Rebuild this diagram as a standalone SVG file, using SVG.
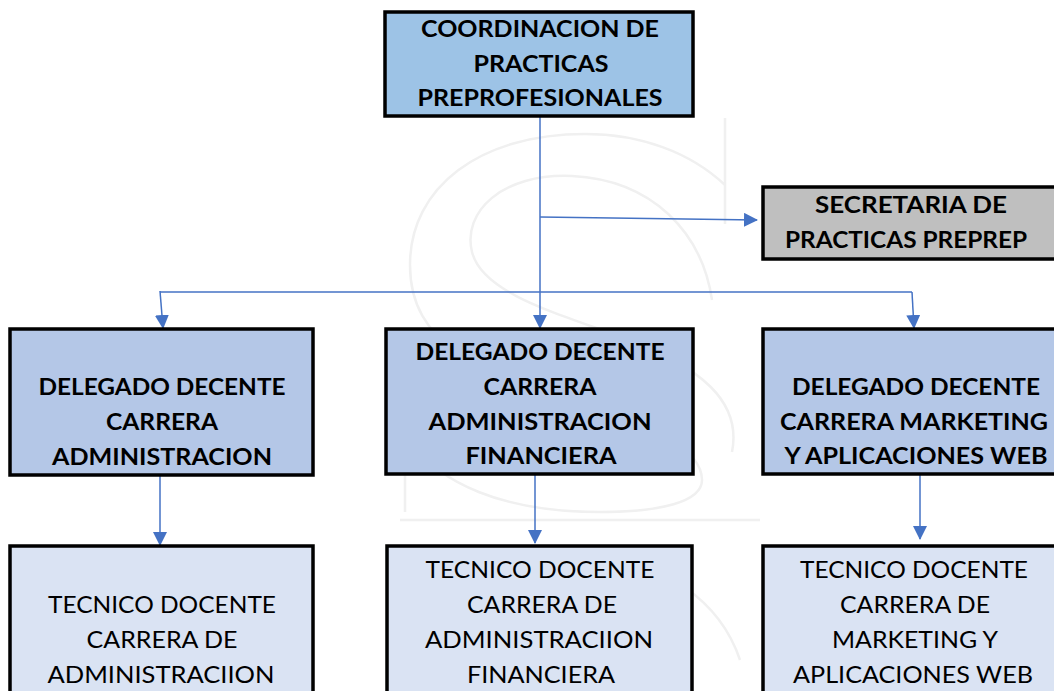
<svg xmlns="http://www.w3.org/2000/svg" width="1054" height="691" viewBox="0 0 1054 691">
<style>
.box{stroke:#000;stroke-width:3.5}
.top{fill:#9DC3E6}
.sec{fill:#BFBFBF}
.mid{fill:#B4C7E7}
.low{fill:#DAE3F3}
.b{font-family:Lato,"Open Sans","Liberation Sans",sans-serif;font-weight:700;font-size:23px;fill:#000;text-anchor:middle}
.n{font-family:Lato,"Open Sans","Liberation Sans",sans-serif;font-weight:400;font-size:22.5px;fill:#000;text-anchor:middle}
.c{fill:none;stroke:#4472C4;stroke-width:1.5}
.wm{fill:none;stroke:#f0f0f0;stroke-width:2.5}
</style>
<defs>
<marker id="ah" markerUnits="userSpaceOnUse" markerWidth="14" markerHeight="14" viewBox="0 0 14 14" refX="13" refY="7" orient="auto">
<path d="M0,0 L14,7 L0,14 Z" fill="#4472C4"/>
</marker>
</defs>
<rect width="1054" height="691" fill="#fff"/>
<g id="watermark">
<path class="wm" d="M725 118 V224 M725 185 C690 152 640 134 585 134 C480 134 410 187 410 265 C410 345 480 372 575 402 C650 427 702 447 702 480 C702 502 660 512 600 512 C500 512 440 482 410 442 M405 430 V512"/>
<path class="wm" d="M712 300 C702 232 652 180 572 176 C502 173 462 212 472 252 C482 292 552 312 622 337 C702 367 742 402 732 452"/>
<path class="wm" d="M400 520 H760 M600 560 C660 560 720 600 740 660"/>
</g>
<g id="connectors">
<path class="c" d="M540 116 V328" marker-end="url(#ah)"/>
<path class="c" d="M540 217 L757 220" marker-end="url(#ah)"/>
<path class="c" d="M160 292 H912"/>
<path class="c" d="M160 291 L163 328" marker-end="url(#ah)"/>
<path class="c" d="M912 292 L914 328" marker-end="url(#ah)"/>
<path class="c" d="M160 476 V545" marker-end="url(#ah)"/>
<path class="c" d="M535 475 V543" marker-end="url(#ah)"/>
<path class="c" d="M920 474 V539" marker-end="url(#ah)"/>
</g>
<g id="coordinacion">
<rect class="box top" x="385" y="12" width="308" height="104"/>
<text class="b" x="540" y="37" textLength="238" lengthAdjust="spacingAndGlyphs">COORDINACION DE</text>
<text class="b" x="541" y="72" textLength="135" lengthAdjust="spacingAndGlyphs">PRACTICAS</text>
<text class="b" x="540" y="106" textLength="245" lengthAdjust="spacingAndGlyphs">PREPROFESIONALES</text>
</g>
<g id="secretaria">
<rect class="box sec" x="763" y="187" width="300" height="72"/>
<text class="b" x="911" y="213" textLength="192" lengthAdjust="spacingAndGlyphs">SECRETARIA DE</text>
<text class="b" x="906" y="248" textLength="242" lengthAdjust="spacingAndGlyphs">PRACTICAS PREPREP</text>
</g>
<g id="delegado-admin">
<rect class="box mid" x="10" y="329" width="303" height="146"/>
<text class="b" x="162" y="395" textLength="247" lengthAdjust="spacingAndGlyphs">DELEGADO DECENTE</text>
<text class="b" x="162" y="430" textLength="112" lengthAdjust="spacingAndGlyphs">CARRERA</text>
<text class="b" x="162" y="465" textLength="220" lengthAdjust="spacingAndGlyphs">ADMINISTRACION</text>
</g>
<g id="delegado-fin">
<rect class="box mid" x="386" y="329" width="307" height="145"/>
<text class="b" x="540" y="360" textLength="249" lengthAdjust="spacingAndGlyphs">DELEGADO DECENTE</text>
<text class="b" x="540" y="395" textLength="113" lengthAdjust="spacingAndGlyphs">CARRERA</text>
<text class="b" x="540" y="430" textLength="223" lengthAdjust="spacingAndGlyphs">ADMINISTRACION</text>
<text class="b" x="541" y="464" textLength="151" lengthAdjust="spacingAndGlyphs">FINANCIERA</text>
</g>
<g id="delegado-mkt">
<rect class="box mid" x="763" y="329" width="310" height="145"/>
<text class="b" x="916" y="395" textLength="248" lengthAdjust="spacingAndGlyphs">DELEGADO DECENTE</text>
<text class="b" x="914" y="430" textLength="268" lengthAdjust="spacingAndGlyphs">CARRERA MARKETING</text>
<text class="b" x="916" y="464" textLength="263" lengthAdjust="spacingAndGlyphs">Y APLICACIONES WEB</text>
</g>
<g id="tecnico-admin">
<rect class="box low" x="10" y="546" width="303" height="160"/>
<text class="n" x="162" y="613" textLength="228" lengthAdjust="spacingAndGlyphs">TECNICO DOCENTE</text>
<text class="n" x="162" y="648" textLength="151" lengthAdjust="spacingAndGlyphs">CARRERA DE</text>
<text class="n" x="161" y="683" textLength="227" lengthAdjust="spacingAndGlyphs">ADMINISTRACIION</text>
</g>
<g id="tecnico-fin">
<rect class="box low" x="387" y="546" width="305" height="160"/>
<text class="n" x="540" y="578" textLength="229" lengthAdjust="spacingAndGlyphs">TECNICO DOCENTE</text>
<text class="n" x="542" y="613" textLength="150" lengthAdjust="spacingAndGlyphs">CARRERA DE</text>
<text class="n" x="539" y="648" textLength="228" lengthAdjust="spacingAndGlyphs">ADMINISTRACIION</text>
<text class="n" x="541" y="683" textLength="148" lengthAdjust="spacingAndGlyphs">FINANCIERA</text>
</g>
<g id="tecnico-mkt">
<rect class="box low" x="763" y="546" width="310" height="160"/>
<text class="n" x="914" y="578" textLength="228" lengthAdjust="spacingAndGlyphs">TECNICO DOCENTE</text>
<text class="n" x="915" y="613" textLength="150" lengthAdjust="spacingAndGlyphs">CARRERA DE</text>
<text class="n" x="915" y="648" textLength="166" lengthAdjust="spacingAndGlyphs">MARKETING Y</text>
<text class="n" x="913" y="683" textLength="240" lengthAdjust="spacingAndGlyphs">APLICACIONES WEB</text>
</g>
</svg>
